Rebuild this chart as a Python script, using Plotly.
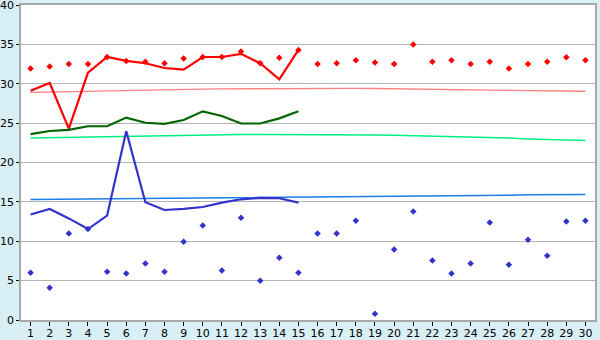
import plotly.graph_objects as go

days = list(range(1, 31))
x_labels = [str(d) for d in days]

# Red line (days 1-15)
red_line = [29.1, 30.1, 24.3, 31.4, 33.4, 32.9, 32.6, 32.0, 31.8, 33.4, 33.4, 33.8, 32.6, 30.55, 34.3]
# Red scatter points (days 1-30)
red_pts = [31.95, 32.2, 32.5, 32.5, 33.4, 32.9, 32.8, 32.6, 33.2, 33.4, 33.4, 34.1, 32.6, 33.3, 34.3,
           32.5, 32.6, 33.0, 32.7, 32.5, 35.0, 32.8, 33.0, 32.5, 32.8, 31.95, 32.5, 32.8, 33.35, 33.0]
# Pink trend (days 1-30)
pink_trend = [28.9, 28.95, 29.05, 29.1, 29.15, 29.2, 29.25, 29.28, 29.3, 29.32, 29.35, 29.37, 29.39, 29.4, 29.42,
              29.43, 29.43, 29.42, 29.4, 29.38, 29.35, 29.32, 29.28, 29.24, 29.2, 29.17, 29.13, 29.1, 29.07, 29.05]
# Dark green line (days 1-15)
green_line = [23.6, 24.0, 24.15, 24.6, 24.6, 25.7, 25.05, 24.9, 25.4, 26.5, 25.9, 24.95, 24.95, 25.6, 26.5]
# Light green trend
green_trend = [23.1, 23.15, 23.2, 23.25, 23.3, 23.35, 23.4, 23.45, 23.5, 23.55, 23.57, 23.57, 23.57, 23.57, 23.57,
               23.57, 23.57, 23.55, 23.5, 23.45, 23.4, 23.35, 23.3, 23.25, 23.15, 23.1, 23.0, 22.95, 22.9, 22.8]
# Blue line (days 1-15)
blue_line = [13.4, 14.1, 12.9, 11.55, 13.25, 23.98, 14.95, 13.97, 14.1, 14.35, 14.9, 15.33, 15.5, 15.46, 14.9]
# Blue scatter points
blue_pts = [6.0, 4.1, 10.97, 11.55, 6.14, 5.9, 7.16, 6.14, 9.95, 12.0, 6.27, 13.0, 5.0, 7.92, 6.0,
            10.97, 10.97, 12.6, 0.8, 8.94, 13.77, 7.54, 5.9, 7.16, 12.37, 7.03, 10.2, 8.17, 12.5, 12.6]
# Blue trend
blue_trend = [15.3, 15.32, 15.35, 15.38, 15.4, 15.42, 15.45, 15.48, 15.52, 15.55, 15.56, 15.57, 15.58, 15.59, 15.6,
              15.61, 15.62, 15.63, 15.67, 15.69, 15.71, 15.72, 15.78, 15.8, 15.82, 15.85, 15.9, 15.91, 15.92, 15.93]

fig = go.Figure()

def line(y, color, width):
    xs = x_labels[:len(y)]
    fig.add_trace(go.Scatter(x=xs, y=y, mode="lines", line=dict(color=color, width=width),
                             showlegend=False, hoverinfo="skip"))

def pts(y, color):
    fig.add_trace(go.Scatter(x=x_labels, y=y, mode="markers",
                             marker=dict(symbol="diamond", size=5, color=color),
                             showlegend=False, hoverinfo="skip"))

line(pink_trend, "#FF8080", 1.3)
line(green_trend, "#00F080", 1.5)
line(blue_trend, "#1A7FE8", 1.5)
line(red_line, "#FF0000", 2.2)
line(green_line, "#006600", 2.2)
line(blue_line, "#3333CC", 2.2)
pts(red_pts, "#FF0000")
pts(blue_pts, "#3333CC")

fig.update_layout(
    width=600, height=340,
    margin=dict(l=21, r=5, t=5, b=20),
    paper_bgcolor="#D9EFF6",
    plot_bgcolor="#FFFFFF",
    font=dict(family="DejaVu Sans", size=11, color="#000000"),
    xaxis=dict(type="category", range=[-0.5, 29.5], showgrid=False, automargin=False,
               showline=True, linecolor="#A8A8A8", linewidth=1.5, mirror=True,
               ticks="outside", ticklen=4, tickcolor="#000000", tickwidth=1,
               ticklabelstandoff=-2,
               ticklabeloverflow="allow", tickfont=dict(size=11), fixedrange=True),
    yaxis=dict(range=[0, 40], dtick=5, showgrid=True, gridcolor="#B4B4B4", gridwidth=1, automargin=False,
               showline=True, linecolor="#A8A8A8", linewidth=1.5, mirror=True,
               ticks="outside", ticklen=3, tickcolor="#000000", tickwidth=1,
               ticklabeloverflow="allow",
               zeroline=False, tickfont=dict(size=11), fixedrange=True),
)

fig.write_html("out.html")
